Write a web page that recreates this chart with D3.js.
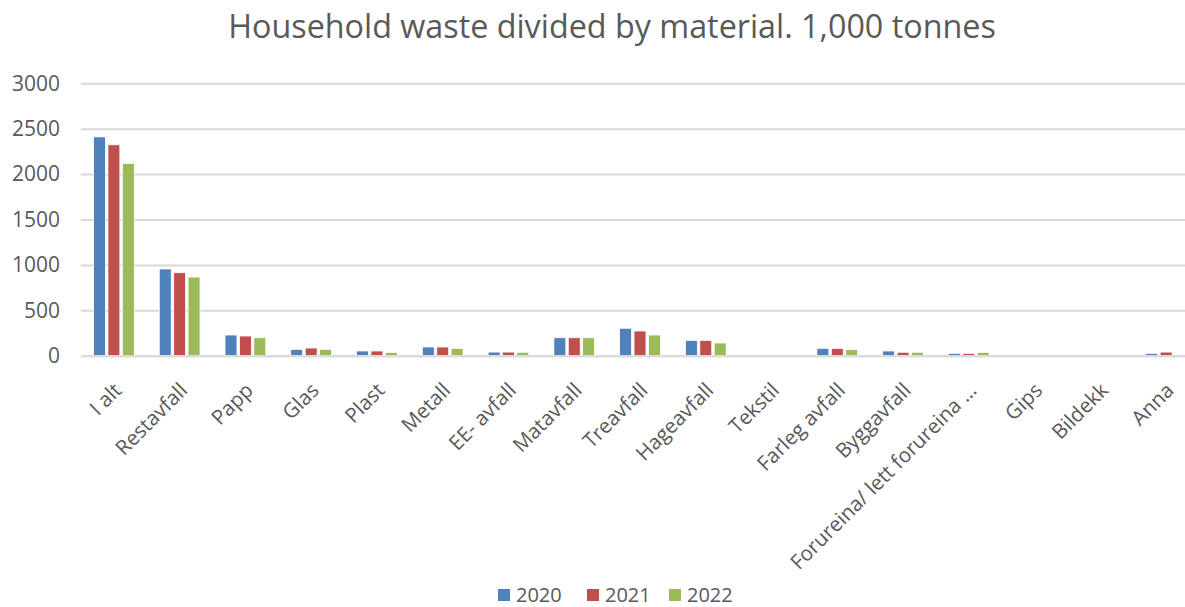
<!DOCTYPE html>
<html>
<head>
<meta charset="utf-8">
<script src="https://cdn.jsdelivr.net/npm/d3@7"></script>
<style>
  html, body { margin: 0; padding: 0; background: #fff; }
  svg { display: block; }
  text { font-family: "Open Sans", "Noto Sans", sans-serif; fill: #595959; }
</style>
</head>
<body>
<svg id="chart" width="1185" height="607"></svg>
<script>
// Household waste by material, 1,000 tonnes
const categories = ["I alt", "Restavfall", "Papp", "Glas", "Plast", "Metall", "EE- avfall",
  "Matavfall", "Treavfall", "Hageavfall", "Tekstil", "Farleg avfall", "Byggavfall",
  "Forureina/ lett forureina ...", "Gips", "Bildekk", "Anna"];
const years = ["2020", "2021", "2022"];
const values2020 = [2410, 955, 228, 70, 52, 96, 40, 198, 302, 169, 0, 81, 52, 26, 0, 0, 26];
const values2021 = [2323, 914, 217, 85, 52, 96, 40, 198, 272, 169, 0, 81, 38, 26, 0, 0, 40];
const values2022 = [2118, 866, 198, 70, 37, 81, 38, 198, 228, 140, 0, 66, 38, 37, 0, 0, 0];
const yTicks = [0, 500, 1000, 1500, 2000, 2500, 3000];
const colors = ["#4F81BD", "#C0504D", "#9BBB59"];

const seriesValues = [values2020, values2021, values2022];
const rows = categories.map((c, i) => ({ cat: c, vals: years.map((y, j) => ({ year: y, v: seriesValues[j][i], k: j })) }));

const svg = d3.select("#chart");
const plotLeft = 81, plotRight = 1199, plotTop = 83.3, plotBottom = 355.7;

const x0 = d3.scaleBand().domain(categories).range([plotLeft, plotRight])
  .paddingInner(0.343).paddingOuter(0.1715);
const x1 = d3.scaleBand().domain(years).range([0, x0.bandwidth()])
  .paddingInner(0.17).paddingOuter(0.085);
const y = d3.scaleLinear().domain([0, 3000]).range([plotBottom, plotTop]);

// Title
svg.append("text")
  .attr("x", 612).attr("y", 38)
  .attr("text-anchor", "middle")
  .style("font-size", "32.3px")
  .text("Household waste divided by material. 1,000 tonnes");

// Horizontal gridlines and value labels
const yAxis = d3.axisLeft(y).tickValues(yTicks).tickSize(-(plotRight - plotLeft)).tickPadding(21).tickFormat(d3.format("d"));
const gy = svg.append("g").attr("transform", `translate(${plotLeft},0)`).call(yAxis);
gy.select(".domain").remove();
gy.selectAll(".tick line").attr("stroke", "#d9d9d9").attr("stroke-width", 2);
gy.selectAll(".tick text").style("font-size", "21px").attr("fill", "#595959");

// Bars
const groups = svg.append("g").selectAll("g").data(rows).join("g")
  .attr("transform", d => `translate(${x0(d.cat)},0)`);
groups.selectAll("rect").data(d => d.vals.filter(e => e.v > 0)).join("rect")
  .attr("x", d => x1(d.year))
  .attr("width", x1.bandwidth())
  .attr("y", d => y(d.v))
  .attr("height", d => y(0) - y(d.v))
  .attr("fill", d => colors[d.k])
  .attr("stroke", "#fff")
  .attr("stroke-width", 0.8);

// Category axis, labels slanted at 45 degrees
const xAxis = d3.axisBottom(x0).tickSize(0).tickPadding(0);
const gx = svg.append("g").attr("transform", `translate(0,${plotBottom})`).call(xAxis);
gx.select(".domain").attr("stroke", "#d9d9d9").attr("stroke-width", 2);
gx.selectAll(".tick text")
  .attr("text-anchor", "end")
  .attr("dy", 0)
  .attr("y", 0)
  .attr("transform", "translate(9,36) rotate(-45)")
  .style("font-size", "20.5px")
  .attr("fill", "#595959");

// Legend
const legendX = [498, 587, 669];
const legend = svg.append("g").selectAll("g").data(years).join("g")
  .attr("transform", (d, i) => `translate(${legendX[i]},589)`);
legend.append("rect").attr("width", 12).attr("height", 12).attr("fill", (d, i) => colors[i]);
legend.append("text").attr("x", 18).attr("y", 12.5).style("font-size", "20px").text(d => d);
</script>
</body>
</html>
